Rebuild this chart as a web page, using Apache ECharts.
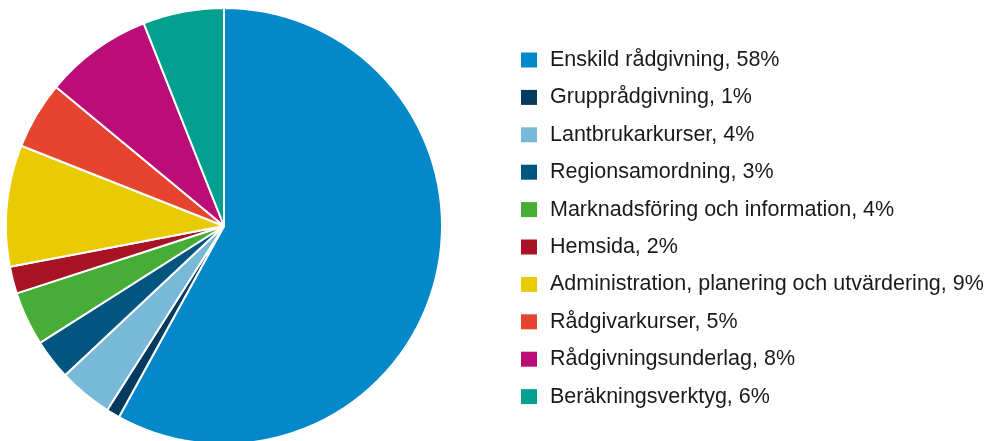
<!DOCTYPE html>
<html><head><meta charset="utf-8">
<script src="https://cdn.jsdelivr.net/npm/echarts@6/dist/echarts.min.js"></script>
<style>html,body{margin:0;padding:0;background:#fff}#c{width:987px;height:441px}</style>
</head><body><div id="c"></div>
<script>
const categories = ["Enskild rådgivning","Grupprådgivning","Lantbrukarkurser","Regionsamordning","Marknadsföring och information","Hemsida","Administration, planering och utvärdering","Rådgivarkurser","Rådgivningsunderlag","Beräkningsverktyg"];
const values = [58,1,4,3,4,2,9,5,8,6];
const colors = ["#0388ca","#033a5e","#77b9d7","#02557f","#47ad36","#a81325","#e8cb02","#e5452f","#bb0d78","#03a08f"];
const chart = echarts.init(document.getElementById('c'));
const valueOf = {};
categories.forEach((c,i)=>valueOf[c]=values[i]);
chart.setOption({
  animation:false,
  color: colors,
  legend:{
    orient:'vertical', left:521, top:49, padding:0,
    itemWidth:16, itemHeight:15, itemGap:15.4,
    icon:'rect',
    itemStyle:{borderWidth:0},
    formatter: n => n + ', ' + valueOf[n] + '%',
    textStyle:{fontFamily:'Liberation Sans, Arial, sans-serif', fontSize:21.5, color:'#1a1a1a', lineHeight:16, padding:[0,0,0,8]},
    data: categories
  },
  series:[{
    type:'pie', center:[224,226], radius:218, startAngle:90, clockwise:true,
    label:{show:false}, labelLine:{show:false},
    itemStyle:{borderColor:'#fff', borderWidth:2},
    emphasis:{disabled:true},
    data: categories.map((c,i)=>({name:c, value:values[i]}))
  }]
});
</script></body></html>
